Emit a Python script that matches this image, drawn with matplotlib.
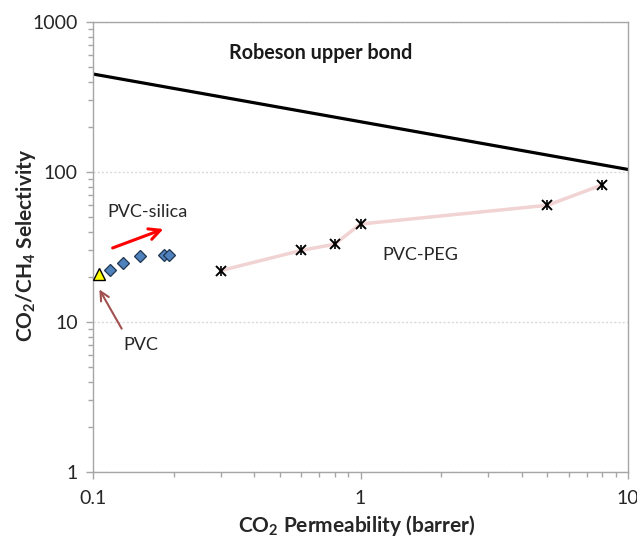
import numpy as np
import matplotlib
matplotlib.use("Agg")
import matplotlib.pyplot as plt
from matplotlib.ticker import FixedLocator, FuncFormatter, LogLocator, NullFormatter

plt.rcParams['font.family'] = ['Lato', 'DejaVu Sans']
plt.rcParams['mathtext.fontset'] = 'custom'
plt.rcParams['mathtext.rm'] = 'Lato'
plt.rcParams['mathtext.bf'] = 'Lato:bold'

# Robeson upper bound (two end points)
robeson_x = [0.1, 10]
robeson_y = [450, 104]

# neat PVC
pvc_x = [0.105]
pvc_y = [21]

# PVC-silica series
silica_x = [0.116, 0.130, 0.150, 0.184, 0.192]
silica_y = [22.2, 24.7, 27.5, 27.8, 27.8]

# PVC-PEG series
peg_x = [0.30, 0.60, 0.80, 1.0, 5.0, 8.0]
peg_y = [22, 30, 33, 45, 60, 82]

AXIS_GREY = '#a6a6a6'
W, H = 637, 542


def setup_axes(ax):
    ax.set_xscale('log')
    ax.set_yscale('log')
    ax.set_xlim(0.1, 10)
    ax.set_ylim(1, 1000)
    for s in ax.spines.values():
        s.set_color(AXIS_GREY)
        s.set_linewidth(1.0)
    ax.xaxis.set_major_locator(FixedLocator([0.1, 1, 10]))
    ax.yaxis.set_major_locator(FixedLocator([1, 10, 100, 1000]))
    ax.xaxis.set_minor_locator(LogLocator(base=10, subs=np.arange(2, 10)))
    ax.yaxis.set_minor_locator(LogLocator(base=10, subs=np.arange(2, 10)))
    fmt = FuncFormatter(lambda v, p: f"{v:g}")
    ax.xaxis.set_major_formatter(fmt)
    ax.yaxis.set_major_formatter(fmt)
    ax.xaxis.set_minor_formatter(NullFormatter())
    ax.yaxis.set_minor_formatter(NullFormatter())
    ax.tick_params(which='both', direction='out', color=AXIS_GREY, labelcolor='#262626', labelsize=14)
    ax.tick_params(which='major', length=5, width=1)
    ax.tick_params(which='minor', length=3.5, width=1)
    ax.tick_params(axis='x', which='major', pad=8)
    ax.tick_params(axis='y', which='major', pad=6)
    ax.yaxis.grid(True, which='major', linestyle=(0, (1.5, 1.5)), color='#d9d9d9', linewidth=1)
    ax.set_axisbelow(True)


fig = plt.figure(figsize=(W / 100, H / 100), dpi=100)
ax = fig.add_axes([93 / W, 1 - 472 / H, 535 / W, 450 / H])
setup_axes(ax)

ax.plot(robeson_x, robeson_y, color='black', linewidth=2.3)

ax.plot(peg_x, peg_y, color='#f2d3d3', linewidth=2.5, zorder=2)
ax.plot(peg_x, peg_y, linestyle='none', marker='x', markersize=7, markeredgewidth=1.4, color='black', zorder=3)
ax.plot(peg_x, peg_y, linestyle='none', marker='|', markersize=7, markeredgewidth=1.2, color='black', zorder=3)

ax.plot(silica_x, silica_y, linestyle='none', marker='D', markersize=6.5, markerfacecolor='#4f81bd',
        markeredgecolor='#1f3550', markeredgewidth=0.9, zorder=4)
ax.plot(pvc_x, pvc_y, linestyle='none', marker='^', markersize=9, markerfacecolor='#ffff00',
        markeredgecolor='black', markeredgewidth=1.0, zorder=5, clip_on=False)

# annotations
ax.text(0.322, 620, 'Robeson upper bond', fontsize=14.2, fontweight='bold',
        color='#1a1a1a', va='center', ha='left')
ax.text(0.1128, 54, 'PVC-silica', fontsize=13, color='#262626', va='center', ha='left')
ax.text(1.21, 28, 'PVC-PEG', fontsize=13, color='#262626', va='center', ha='left')
ax.text(0.1295, 7.0, 'PVC', fontsize=13, color='#262626', va='center', ha='left')

ax.annotate('', xy=(0.1875, 42.3), xytext=(0.1158, 30.7),
            arrowprops=dict(arrowstyle='->', color='#ff0000', linewidth=2.2, mutation_scale=20))
ax.annotate('', xy=(0.1044, 17.1), xytext=(0.1295, 8.7),
            arrowprops=dict(arrowstyle='->', color='#a0504f', linewidth=1.5, mutation_scale=16))

# axis titles placed at the reference's pixel positions
fig.text(357 / W, 1 - 525 / H, 'CO$_\\mathbf{2}$ Permeability (barrer)', fontsize=15, fontweight='bold',
         color='#262626', ha='center', va='center')
fig.text(26 / W, 1 - 245 / H, 'CO$_\\mathbf{2}$/CH$_\\mathbf{4}$ Selectivity', fontsize=15, fontweight='bold',
         color='#262626', ha='center', va='center', rotation=90)

fig.savefig('out.png', dpi=100)
